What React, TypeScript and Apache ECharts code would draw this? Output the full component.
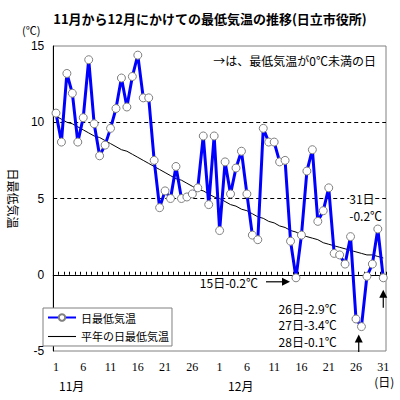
import React, { useEffect, useRef } from "react";
import * as echarts from "echarts";

const TITLE = "11月から12月にかけての最低気温の推移(日立市役所)";
const NOTE = "→は、最低気温が0℃未満の日";
const UNIT = "(℃)";
const Y_NAME = "日最低気温";
const SERIES_DAILY = "日最低気温";
const SERIES_NORMAL = "平年の日最低気温";

const novDays = 30;
const decDays = 31;
const categories: string[] = [];
for (let d = 1; d <= novDays; d++) categories.push(`11/${d}`);
for (let d = 1; d <= decDays; d++) categories.push(`12/${d}`);

const monthLabels = [
  { text: "11月", index: 0 },
  { text: "12月", index: 31 },
];

const dailyMin = [
  10.6, 8.7, 13.2, 11.9, 8.7, 10.3, 14.1, 9.9, 7.8, 8.5,
  9.6, 10.9, 12.9, 11.0, 13.0, 14.4, 11.6, 11.6, 7.5, 4.4,
  5.5, 5.0, 7.1, 5.0, 5.1, 5.3, 5.7, 9.1, 4.6, 9.1,
  2.9, 7.4, 5.3, 7.0, 8.1, 5.3, 2.6, 2.3, 9.6, 8.7,
  8.7, 7.4, 7.5, 2.2, -0.2, 2.6, 6.8, 8.2, 3.5, 4.2,
  5.7, 1.4, 1.3, 0.7, 2.5, -2.9, -3.4, -0.1, 0.7, 3.0,
  -0.2,
];

const normalMin = [
  10.4, 10.2, 10.0, 9.9, 9.7, 9.5, 9.3, 9.1, 9.0, 8.8,
  8.6, 8.4, 8.2, 8.1, 7.9, 7.7, 7.5, 7.3, 7.1, 6.9,
  6.7, 6.5, 6.3, 6.2, 6.0, 5.8, 5.6, 5.5, 5.3, 5.1,
  5.0, 4.8, 4.6, 4.5, 4.3, 4.2, 4.0, 3.8, 3.7, 3.5,
  3.4, 3.2, 3.1, 2.9, 2.8, 2.6, 2.5, 2.4, 2.3, 2.1,
  2.0, 1.9, 1.8, 1.7, 1.6, 1.5, 1.4, 1.3, 1.3, 1.2,
  1.1,
];

const Y_MIN = -5;
const Y_MAX = 15;
const Y_INTERVAL = 5;

const JP = "'Noto Sans CJK JP', sans-serif";

export default function App() {
  const ref = useRef<HTMLDivElement>(null);
  useEffect(() => {
    const chart = echarts.init(ref.current!, null, { renderer: "svg" });
    chart.setOption({
      animation: false,
      backgroundColor: "#fff",
      grid: {
        left: 37,
        right: 14,
        top: 46,
        bottom: 49,
        show: true,
        borderColor: "#808080",
        borderWidth: 1,
        backgroundColor: "rgba(0,0,0,0)",
      },
      legend: {
        data: [
          { name: SERIES_DAILY },
          { name: SERIES_NORMAL, icon: "path://M0,0L26,0L26,1L0,1Z" },
        ],
        orient: "vertical",
        left: 43,
        top: 308,
        padding: [4, 3, 4, 4],
        itemWidth: 28,
        itemHeight: 8,
        itemGap: 8,
        symbolKeepAspect: true,
        borderColor: "#808080",
        borderWidth: 1,
        backgroundColor: "#fff",
        selectedMode: false,
        textStyle: { fontSize: 11, fontFamily: JP, color: "#000" },
      },
      xAxis: {
        type: "category",
        data: categories,
        boundaryGap: true,
        axisLine: { show: true, lineStyle: { color: "#000", width: 1 } },
        axisTick: { show: true, inside: true, length: 3, interval: 0, lineStyle: { color: "#000" } },
        axisLabel: {
          interval: 4,
          margin: 10,
          fontSize: 12,
          fontFamily: "'Liberation Serif', serif",
          color: "#000",
          formatter: (v: string) => v.split("/")[1],
        },
        splitLine: { show: false },
      },
      yAxis: {
        type: "value",
        min: Y_MIN,
        max: Y_MAX,
        interval: Y_INTERVAL,
        name: Y_NAME,
        nameLocation: "middle",
        nameGap: 26,
        nameRotate: -90,
        nameTextStyle: { fontSize: 12, fontFamily: JP, color: "#000" },
        axisLine: { show: true, lineStyle: { color: "#000", width: 1 } },
        axisTick: { show: false },
        axisLabel: {
          margin: 9,
          fontSize: 12,
          fontFamily: "'Liberation Sans', sans-serif",
          color: "#000",
        },
        splitLine: {
          show: true,
          showMinLine: false,
          showMaxLine: false,
          lineStyle: { color: "#000", width: 1, type: [4, 3] },
        },
      },
      series: [
        {
          name: SERIES_NORMAL,
          type: "line",
          data: normalMin,
          symbol: "none",
          lineStyle: { color: "#000", width: 1 },
          itemStyle: { color: "#000" },
          silent: true,
          z: 2,
        },
        {
          name: SERIES_DAILY,
          type: "line",
          data: dailyMin,
          symbol: "circle",
          symbolSize: 8,
          showAllSymbol: true,
          lineStyle: { color: "#0000ff", width: 3 },
          itemStyle: { color: "#fff", borderColor: "#808080", borderWidth: 1 },
          silent: true,
          z: 3,
        },
      ],
    });

    const px = (i: number, v: number) =>
      chart.convertToPixel({ gridIndex: 0 }, [i, v]) as number[];

    const txt = (text: string, x: number, y: number, align = "left", size = 12, extra: any = {}) => ({
      type: "text",
      x,
      y,
      z: 10,
      style: {
        text,
        fontSize: size,
        fontFamily: JP,
        fill: "#000",
        align,
        verticalAlign: "middle",
        ...extra,
      },
    });

    const arrowRight = (x1: number, x2: number, y: number) => [
      { type: "line", z: 10, shape: { x1, y1: y, x2: x2 - 6, y2: y }, style: { stroke: "#000", lineWidth: 1.2 } },
      { type: "polygon", z: 10, shape: { points: [[x2, y], [x2 - 8, y - 4], [x2 - 8, y + 4]] }, style: { fill: "#000" } },
    ];
    const arrowUp = (x: number, yTip: number, yTail: number) => [
      { type: "line", z: 10, shape: { x1: x, y1: yTail, x2: x, y2: yTip + 6 }, style: { stroke: "#000", lineWidth: 1.2 } },
      { type: "polygon", z: 10, shape: { points: [[x, yTip], [x - 4, yTip + 8], [x + 4, yTip + 8]] }, style: { fill: "#000" } },
    ];

    const gridRect = { left: 37, right: 386, top: 46, bottom: 351 };
    const pDec15 = px(44, dailyMin[44]);
    const pDec26 = px(55, dailyMin[55]);
    const pDec27 = px(56, dailyMin[56]);
    const pDec31 = px(60, dailyMin[60]);
    const y5 = px(60, 5)[1];
    const xMid = (pDec26[0] + pDec27[0]) / 2;

    const graphics: any[] = [
      txt(TITLE, 210, 18, "center", 13, { fontWeight: "bold" }),
      txt(UNIT, 22, 30, "left", 11),
      txt(NOTE, gridRect.right - 10, 60, "right", 12),
      txt("15日-0.2℃", pDec15[0] - 38, pDec15[1] + 5, "right", 12),
      ...arrowRight(pDec15[0] - 30, pDec15[0] - 6, pDec15[1] + 4),
      txt("31日", pDec31[0] - 34, y5, "left", 12, { backgroundColor: "#fff" }),
      txt("-0.2℃", pDec31[0] - 34, y5 + 17, "left", 12),
      ...arrowUp(pDec31[0], pDec31[1] + 12, pDec31[1] + 30),
      txt("26日-2.9℃", xMid - 22, 308, "right", 12),
      txt("27日-3.4℃", xMid - 22, 324, "right", 12),
      txt("28日-0.1℃", xMid - 22, 341, "right", 12),
      ...arrowUp(xMid, pDec27[1] + 8, gridRect.bottom + 1),
      ...monthLabels.map((m) => txt(m.text, px(m.index, 0)[0] + 3, 385, "left", 12)),
      txt("(日)", pDec31[0] + 1, 381, "center", 12),
    ];

    chart.setOption({ graphic: graphics });
    return () => chart.dispose();
  }, []);
  return (
    <div
      ref={ref}
      style={{ position: "fixed", left: 0, top: 0, width: 400, height: 400 }}
    />
  );
}
